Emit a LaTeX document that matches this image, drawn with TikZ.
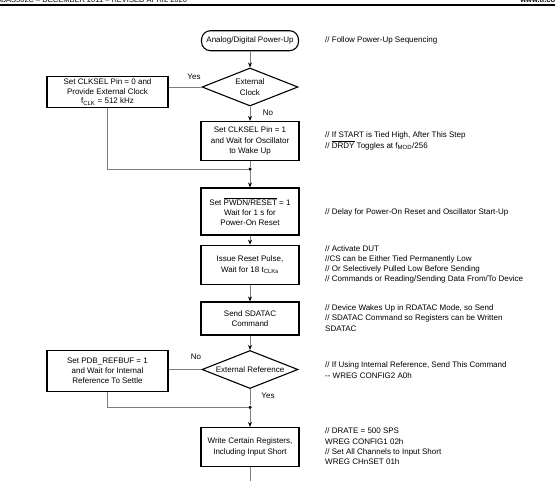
\documentclass[tikz,border=0pt]{standalone}
\usepackage{fontspec}
\setmainfont{Liberation Sans}
\usetikzlibrary{arrows.meta,shapes.geometric}
\definecolor{linegray}{RGB}{125,125,125}
\newcommand{\myol}[1]{$\overline{\mbox{#1}}$}
\begin{document}
\begin{tikzpicture}[x=1pt,y=-1pt,
  font=\fontsize{8}{10.3}\selectfont,
  every node/.style={inner sep=0pt},
  stepbox/.style={draw=black,line width=1.1pt,minimum width=98pt,align=center},
  sidebox/.style={draw=black,line width=1.1pt,minimum width=121pt,align=center},
  term/.style={draw,line width=1.1pt,rounded corners=9pt,minimum width=97pt,minimum height=20pt},
  decide/.style={draw,diamond,aspect=2.5,line width=1.1pt,minimum width=96pt,minimum height=38pt,align=center},
  conn/.style={draw=linegray,line width=0.9pt},
  arr/.style={conn,-{Stealth[length=5pt,width=4pt,color=black]}},
  note/.style={anchor=west,align=left},
  lab/.style={},
  dot/.style={circle,fill=black,minimum size=3.5pt}
]
\useasboundingbox (0,0) rectangle (555,480);
\begin{scope}
\clip (0,0) rectangle (555,480);
\node[anchor=base west,font=\fontsize{7.5}{9}\selectfont] (hdl) at (-4,2.5) {SBAS502C – DECEMBER 2011 – REVISED APRIL 2020};
\node[anchor=base east,font=\fontsize{7.5}{9}\selectfont\bfseries] (hdr) at (562,2.5) {www.ti.com};
\end{scope}
\draw[line width=1.8pt] (0,5.2) -- (555,5.2);

\node[term] (start) at (250,40.7) {Analog/Digital Power-Up};
\node[decide] (dclk) at (250,87) {External\\Clock};
\node[sidebox,minimum height=31pt,font=\fontsize{8}{9.6}\selectfont] (b0) at (107.5,92) {Set CLKSEL Pin = 0 and\\Provide External Clock\\f\textsubscript{CLK} = 512 kHz};
\node[stepbox,minimum height=39pt] (b1) at (250,141) {Set CLKSEL Pin = 1\\and Wait for Oscillator\\to Wake Up};
\node[dot] (j1) at (250,169) {};
\node[stepbox,minimum height=47pt] (b2) at (250,211.5) {Set \myol{PWDN/RESET} = 1\\Wait for 1 s for\\Power-On Reset};
\node[stepbox,minimum height=39pt] (b3) at (250,264.7) {Issue Reset Pulse,\\Wait for 18 t\textsubscript{CLKs}};
\node[stepbox,minimum height=33pt] (b4) at (250,318.5) {Send SDATAC\\Command};
\node[decide] (dref) at (250,369.5) {External Reference};
\node[sidebox,minimum height=41pt] (b5) at (107.5,370.6) {Set PDB\_REFBUF = 1\\and Wait for Internal\\Reference To Settle};
\node[dot] (j2) at (250,407.3) {};
\node[stepbox,minimum height=39pt] (b6) at (250,447) {Write Certain Registers,\\Including Input Short};
\coordinate (end) at (250,482);

\node[lab] (yes1) at (194,76.5) {Yes};
\node[lab] (no1) at (268,112.5) {No};
\node[lab] (no2) at (196,356.6) {No};
\node[lab] (yes2) at (268,396) {Yes};

\draw[arr] (start) -- (dclk);
\draw[arr] (dclk) -- (b1);
\draw[conn] (dclk.west) -- (dclk.west -| b0.east);
\draw[conn] (b0.south) |- (j1);
\draw[conn] (b1) -- (j1);
\draw[arr] (j1) -- (b2);
\draw[arr] (b2) -- (b3);
\draw[arr] (b3) -- (b4);
\draw[arr] (b4) -- (dref);
\draw[conn] (dref.west) -- (dref.west -| b5.east);
\draw[conn] (b5.south) |- (j2);
\draw[conn] (dref) -- (j2);
\draw[arr] (j2) -- (b6);
\draw[conn] (b6) -- (end);

\node[note] (c0) at (325,40) {// Follow Power-Up Sequencing};
\node[note] (c1) at (325,140.8) {// If START is Tied High, After This Step\\// \myol{DRDY} Toggles at f\textsubscript{MOD}/256};
\node[note] (c2) at (325,212) {// Delay for Power-On Reset and Oscillator Start-Up};
\node[note] (c3) at (325,264.4) {// Activate DUT\\//CS can be Either Tied Permanently Low\\// Or Selectively Pulled Low Before Sending\\// Commands or Reading/Sending Data From/To Device};
\node[note] (c4) at (325,318) {// Device Wakes Up in RDATAC Mode, so Send\\// SDATAC Command so Registers can be Written\\SDATAC};
\node[note] (c5) at (325,370) {// If Using Internal Reference, Send This Command\\-{}- WREG CONFIG2 A0h};
\node[note] (c6) at (325,446.4) {// DRATE = 500 SPS\\WREG CONFIG1 02h\\// Set All Channels to Input Short\\WREG CHnSET 01h};
\end{tikzpicture}
\end{document}
